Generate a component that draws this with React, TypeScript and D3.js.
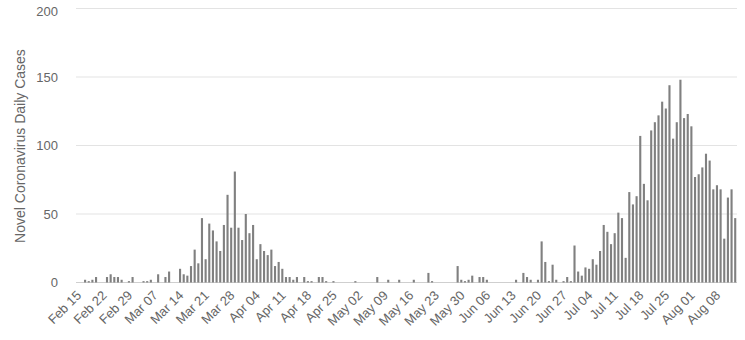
import React from "react";
import * as d3 from "d3";

const startDate = new Date(2020, 1, 15);

const dailyCases: number[] = [
  0, 0, 2, 1, 2, 4, 0, 0, 4, 6,
  4, 4, 2, 0, 1, 4, 0, 0, 1, 1,
  2, 0, 6, 0, 4, 8, 0, 0, 10, 6,
  5, 12, 24, 14, 47, 17, 43, 38, 30, 23,
  42, 64, 40, 81, 40, 31, 50, 36, 42, 17,
  28, 23, 20, 24, 12, 15, 10, 4, 4, 2,
  4, 0, 4, 1, 1, 0, 4, 4, 1, 0,
  1, 0, 0, 0, 0, 0, 1, 0, 0, 0,
  0, 0, 4, 0, 0, 2, 0, 0, 2, 0,
  0, 0, 2, 0, 0, 0, 7, 1, 0, 0,
  0, 0, 0, 0, 12, 2, 1, 2, 5, 0,
  4, 4, 2, 0, 0, 0, 0, 0, 0, 0,
  2, 0, 7, 4, 2, 0, 2, 30, 15, 1,
  13, 2, 0, 1, 4, 1, 27, 8, 5, 11,
  10, 17, 13, 23, 42, 37, 28, 36, 51, 47,
  18, 66, 57, 63, 107, 72, 60, 111, 117, 122,
  132, 127, 144, 105, 117, 148, 120, 123, 114, 77,
  79, 84, 94, 89, 68, 71, 68, 32, 62, 68,
  47,
];

const tickLabels: string[] = [
  "Feb 15", "Feb 22", "Feb 29", "Mar 07", "Mar 14", "Mar 21", "Mar 28",
  "Apr 04", "Apr 11", "Apr 18", "Apr 25", "May 02", "May 09", "May 16",
  "May 23", "May 30", "Jun 06", "Jun 13", "Jun 20", "Jun 27", "Jul 04",
  "Jul 11", "Jul 18", "Jul 25", "Aug 01", "Aug 08",
];

const yTicks: number[] = [0, 50, 100, 150, 200];
const yTitle = "Novel Coronavirus Daily Cases";

const W = 745;
const H = 340;
const FONT = "'Liberation Sans', Arial, Helvetica, sans-serif";

export default function App() {
  const dates = dailyCases.map((_, i) => d3.timeDay.offset(startDate, i));
  const keys = dates.map((d) => d3.timeFormat("%Y-%m-%d")(d));

  const x = d3
    .scaleBand<string>()
    .domain(keys)
    .range([76, 737])
    .paddingInner(0.42)
    .paddingOuter(0.2);
  const y = d3.scaleLinear().domain([0, 200]).range([282.5, 8.5]);

  const tickKeys = tickLabels.map((_, i) => keys[i * 7]);

  return (
    <svg
      width={W}
      height={H}
      style={{ position: "absolute", left: 0, top: 0, background: "#fff" }}
      fontFamily={FONT}
    >
      {yTicks.map((t) => (
        <g key={t}>
          <line
            x1={76}
            x2={737}
            y1={y(t)}
            y2={y(t)}
            stroke={t === 0 ? "#cfcfcf" : "#e3e3e3"}
            strokeWidth={1}
          />
          <text
            x={58}
            y={y(t) + (t === 200 ? 3 : 0)}
            dy="0.35em"
            textAnchor="end"
            fontSize={13}
            fill="#666"
          >
            {t}
          </text>
        </g>
      ))}
      <text
        transform={`translate(20,146) rotate(-90)`}
        textAnchor="middle"
        dy="0.35em"
        fontSize={14}
        fill="#666"
      >
        {yTitle}
      </text>
      {dailyCases.map((v, i) =>
        v > 0 ? (
          <rect
            key={keys[i]}
            x={x(keys[i])!}
            width={x.bandwidth()}
            y={y(v)}
            height={y(0) - y(v)}
            fill="#808080"
          />
        ) : null
      )}
      {tickKeys.map((k, i) => {
        const cx = x(k)! + x.bandwidth() / 2;
        return (
          <text
            key={k}
            transform={`translate(${cx + 1},${293}) rotate(-45)`}
            textAnchor="end"
            dy="0.35em"
            fontSize={13}
            fill="#666"
          >
            {tickLabels[i]}
          </text>
        );
      })}
    </svg>
  );
}
